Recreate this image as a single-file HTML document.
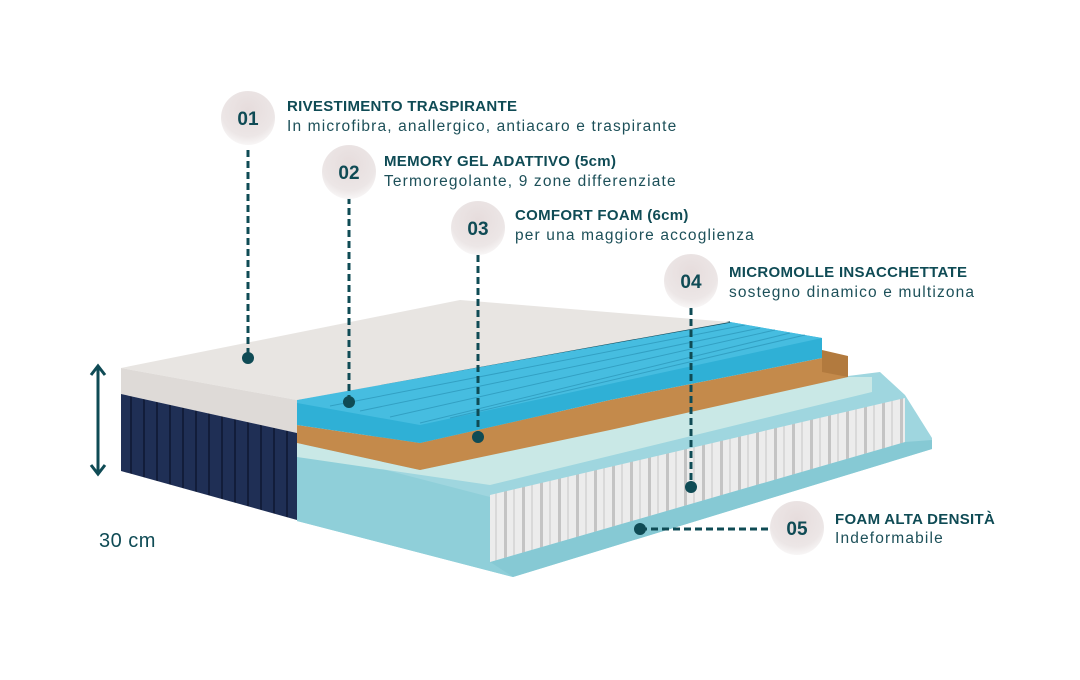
<!DOCTYPE html>
<html><head><meta charset="utf-8"><style>
html,body{margin:0;padding:0;background:#fff}
.w{position:relative;width:1080px;height:680px;overflow:hidden;font-family:"Liberation Sans",sans-serif;color:#0f4b55}
.t{position:absolute;font-size:15px;font-weight:bold;letter-spacing:0.3px;white-space:nowrap}
.s{position:absolute;font-size:15.5px;letter-spacing:1.15px;color:#1d5059;white-space:nowrap}
</style></head><body><div class="w">
<svg width="1080" height="680" style="position:absolute;left:0;top:0">
<defs>
<radialGradient id="c" cx="0.5" cy="0.35" r="0.65"><stop offset="0" stop-color="#e6dcdc"/><stop offset="0.75" stop-color="#ece6e6"/><stop offset="1" stop-color="#f8f6f6"/></radialGradient>
<pattern id="sp" width="18" height="60" patternUnits="userSpaceOnUse"><rect width="18" height="60" fill="#ececec"/><rect x="0" width="3" height="60" fill="#c4c4c4"/><rect x="9" width="2" height="60" fill="#d9d9d9"/></pattern>
<pattern id="nv" width="13" height="40" patternUnits="userSpaceOnUse"><rect width="13" height="40" fill="#1f2f55"/><rect width="2" height="40" fill="#121d3a"/></pattern>
</defs>
<polygon points="297,445 880,372 905,395 932,438 932,449 513,577 297,521" fill="#9fd6df"/>
<polygon points="297,447 490,497 490,562 513,577 297,521" fill="#8fcfd9"/>
<polygon points="490,562 905,442 932,440 932,449 513,577" fill="#86c9d4"/>
<polygon points="490,495 905,398 905,442 490,562" fill="url(#sp)"/>
<polygon points="297,443 420,470 848,377 872,377 872,392 490,485 297,457" fill="#c9e8e6"/>
<polygon points="297,425 420,443 610,400 822,358 848,357 848,377 610,430 420,470 297,443" fill="#c48a4b"/>
<polygon points="822,350 848,356 848,377 822,372" fill="#b27a3e"/>
<polygon points="297,400 730,322 822,338 822,358 610,400 420,443 297,425" fill="#2fb0d6"/>
<polygon points="297,400 730,322 822,338 420,425 297,403" fill="#46bde0"/>
<g stroke="#2a95b8" stroke-width="1" opacity="0.7">
<line x1="330" y1="406" x2="745" y2="325"/><line x1="360" y1="411" x2="760" y2="328"/><line x1="390" y1="417" x2="775" y2="330"/><line x1="420" y1="423" x2="790" y2="333"/><line x1="450" y1="418" x2="805" y2="335"/>
</g>
<line x1="297" y1="399" x2="730" y2="322" stroke="#114a5a" stroke-width="1.5"/>
<polygon points="121,368 460,300 730,322 297,400" fill="#e8e5e2"/>
<polygon points="121,368 297,400 297,433 121,394" fill="#dedad7"/>
<polygon points="121,394 297,433 297,520 121,471" fill="url(#nv)"/>
<line x1="98" y1="368" x2="98" y2="472" stroke="#0f4b55" stroke-width="3"/>
<polyline points="91,375 98,366 105,375" fill="none" stroke="#0f4b55" stroke-width="3"/>
<polyline points="91,465 98,474 105,465" fill="none" stroke="#0f4b55" stroke-width="3"/>
<g stroke="#0f4b55" stroke-width="3" stroke-dasharray="7,4">
<line x1="248" y1="150" x2="248" y2="358"/>
<line x1="349" y1="197" x2="349" y2="402"/>
<line x1="478" y1="255" x2="478" y2="437"/>
<line x1="691" y1="308" x2="691" y2="487"/>
<line x1="640" y1="529" x2="770" y2="529"/>
</g>
<g fill="#0f4b55">
<circle cx="248" cy="358" r="6"/><circle cx="349" cy="402" r="6"/><circle cx="478" cy="437" r="6"/><circle cx="691" cy="487" r="6"/><circle cx="640" cy="529" r="6"/>
</g>
<g fill="url(#c)">
<circle cx="248" cy="118" r="27"/><circle cx="349" cy="172" r="27"/><circle cx="478" cy="228" r="27"/><circle cx="691" cy="281" r="27"/><circle cx="797" cy="528" r="27"/>
</g>
<g fill="#0f4b55" font-family="Liberation Sans, sans-serif" font-weight="bold" font-size="19" text-anchor="middle">
<text x="248" y="125">01</text><text x="349" y="179">02</text><text x="478" y="235">03</text><text x="691" y="288">04</text><text x="797" y="535">05</text>
</g>
</svg>
<div class="t" style="left:287px;top:98px">RIVESTIMENTO TRASPIRANTE</div>
<div class="s" style="left:287px;top:118px">In microfibra, anallergico, antiacaro e traspirante</div>
<div class="t" style="left:384px;top:153px">MEMORY GEL ADATTIVO (5cm)</div>
<div class="s" style="left:384px;top:173px">Termoregolante, 9 zone differenziate</div>
<div class="t" style="left:515px;top:207px">COMFORT FOAM (6cm)</div>
<div class="s" style="left:515px;top:227px">per una maggiore accoglienza</div>
<div class="t" style="left:729px;top:264px">MICROMOLLE INSACCHETTATE</div>
<div class="s" style="left:729px;top:284px">sostegno dinamico e multizona</div>
<div class="t" style="left:835px;top:511px">FOAM ALTA DENSITÀ</div>
<div class="s" style="left:835px;top:530px">Indeformabile</div>
<div style="position:absolute;left:99px;top:530px;font-size:20px;letter-spacing:0.5px;color:#0f4b55">30 cm</div>
</div></body></html>
